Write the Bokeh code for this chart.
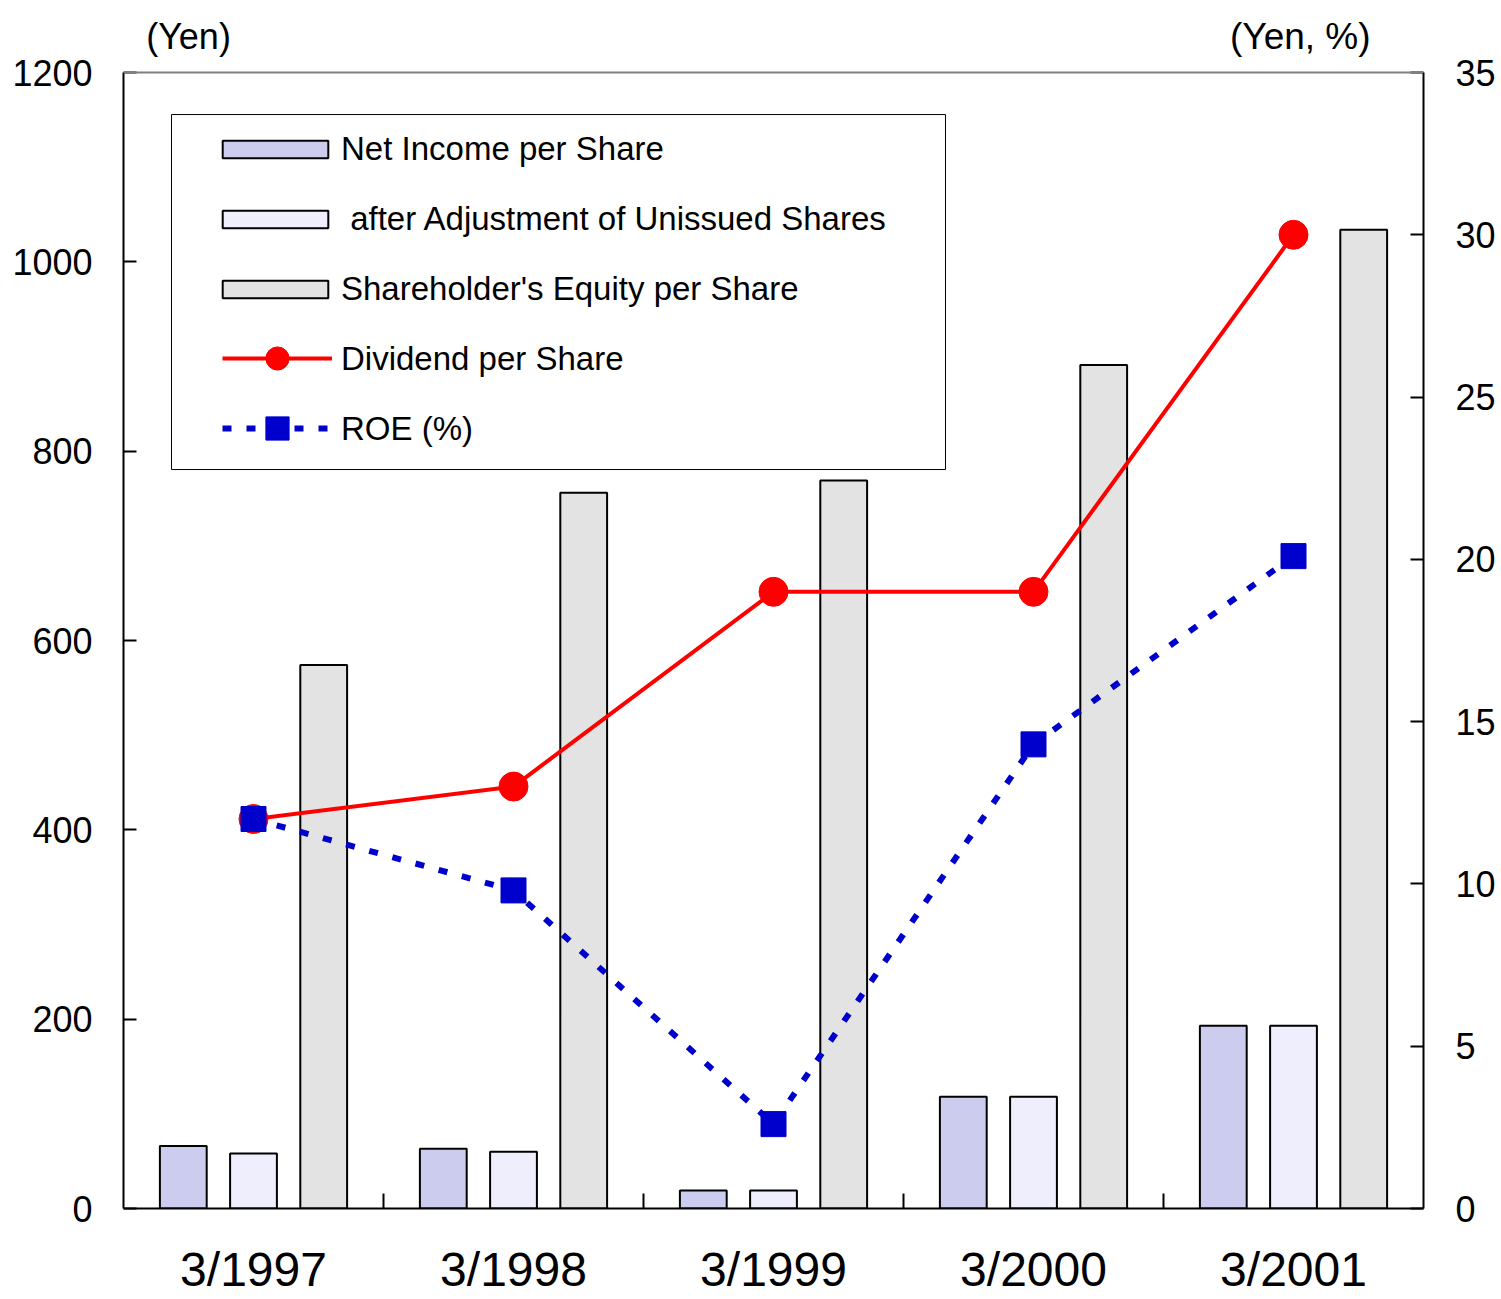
from bokeh.plotting import figure
from bokeh.models import (Range1d, LinearAxis, FixedTicker, Legend, LegendItem,
                          Label, BoxAnnotation, ColumnDataSource, Span)
from bokeh.embed import file_html
from bokeh.resources import INLINE

# ---------------- data ----------------
years = ["3/1997", "3/1998", "3/1999", "3/2000", "3/2001"]
net_income = [66, 63, 19, 118, 193]
net_income_adj = [58, 60, 19, 118, 193]
equity = [574, 756, 769, 891, 1034]
dividend = [12, 13, 19, 19, 30]
roe = [12.0, 9.8, 2.6, 14.3, 20.1]
left_ticks = [0, 200, 400, 600, 800, 1000, 1200]
right_ticks = [0, 5, 10, 15, 20, 25, 30, 35]

FONT = "Liberation Sans"
LEFT_MAX = 1200
RIGHT_MAX = 35
AXIS_PX = 1136          # pixel height of the 0..max axis span
FRAME_PX = 1204         # frame includes a header band for the unit titles
top_factor = FRAME_PX / AXIS_PX

centers = [i + 0.5 for i in range(len(years))]
bw = 0.18
off = 0.27

src = ColumnDataSource(dict(
    xc=centers,
    xn=[c - off for c in centers],
    xe=[c + off for c in centers],
    net=net_income, adj=net_income_adj, eq=equity, div=dividend, roe=roe,
))

p = figure(frame_width=1300, frame_height=FRAME_PX,
           min_border_left=123, min_border_right=75,
           min_border_top=4, min_border_bottom=90,
           x_range=Range1d(0, len(years)),
           y_range=Range1d(0, LEFT_MAX * top_factor),
           output_backend="svg", toolbar_location=None)
p.extra_y_ranges = {"right": Range1d(0, RIGHT_MAX * top_factor)}
p.xgrid.grid_line_color = None
p.ygrid.grid_line_color = None
p.outline_line_color = None
p.background_fill_color = "white"
p.border_fill_color = "white"

# top border of the plotting area
p.add_layout(Span(location=LEFT_MAX, dimension="width", line_color="#808080", line_width=2))

# left axis
ya = p.yaxis[0]
ya.bounds = (0, LEFT_MAX)
ya.ticker = FixedTicker(ticks=left_ticks, minor_ticks=[])
ya.major_tick_in = 13
ya.major_tick_out = 0
ya.minor_tick_in = 0
ya.minor_tick_out = 0
ya.major_tick_line_width = 2
ya.axis_line_width = 2
ya.axis_line_color = "black"
ya.major_tick_line_color = "black"
ya.major_label_standoff = 31
ya.major_label_text_font = FONT
ya.major_label_text_font_size = "36px"
ya.major_label_text_color = "black"

# right axis
ra = LinearAxis(y_range_name="right", ticker=FixedTicker(ticks=right_ticks, minor_ticks=[]))
ra.bounds = (0, RIGHT_MAX)
ra.major_tick_in = 13
ra.major_tick_out = 0
ra.minor_tick_in = 0
ra.minor_tick_out = 0
ra.major_tick_line_width = 2
ra.axis_line_width = 2
ra.axis_line_color = "black"
ra.major_label_standoff = 32
ra.major_label_text_font = FONT
ra.major_label_text_font_size = "36px"
ra.major_label_text_color = "black"
p.add_layout(ra, "right")

# bottom axis
xa = p.xaxis[0]
xa.ticker = FixedTicker(ticks=centers, minor_ticks=[1, 2, 3, 4])
xa.major_label_overrides = {c: y for c, y in zip(centers, years)}
xa.major_tick_in = 0
xa.major_tick_out = 0
xa.minor_tick_in = 15
xa.minor_tick_out = 0
xa.minor_tick_line_width = 2
xa.minor_tick_line_color = "black"
xa.axis_line_width = 2
xa.axis_line_color = "black"
xa.major_label_standoff = 34
xa.major_label_text_font = FONT
xa.major_label_text_font_size = "48px"
xa.major_label_text_color = "black"

# bars
r_net = p.vbar(x="xn", top="net", width=bw, source=src, fill_color="#CCCCEE",
               line_color="black", line_width=2)
r_adj = p.vbar(x="xc", top="adj", width=bw, source=src, fill_color="#EEEEFC",
               line_color="black", line_width=2)
r_eq = p.vbar(x="xe", top="eq", width=bw, source=src, fill_color="#E3E3E3",
              line_color="black", line_width=2)

# lines on right axis
r_div_line = p.line(x="xc", y="div", source=src, y_range_name="right",
                    line_color="#FF0000", line_width=4)
r_div_pts = p.scatter(x="xc", y="div", source=src, y_range_name="right",
                      marker="circle", size=29, fill_color="#FF0000", line_color="#FF0000")
r_roe_line = p.line(x="xc", y="roe", source=src, y_range_name="right",
                    line_color="#0000CC", line_width=6, line_dash="9 15")
r_roe_pts = p.scatter(x="xc", y="roe", source=src, y_range_name="right",
                      marker="square", size=25, fill_color="#0000CC", line_color="#0000CC")

# invisible placeholder so line entries share the text column of the bar entries
r_blank = p.line(x=[], y=[], line_alpha=0)

# legend frame
box = BoxAnnotation(left=0.1846, right=3.1615, top=1155.6, bottom=780.6,
                    fill_color="white", fill_alpha=1.0, line_color="black",
                    line_alpha=1.0, line_width=1)
p.add_layout(box)

leg1 = Legend(items=[
    LegendItem(label="Net Income per Share", renderers=[r_net]),
    LegendItem(label=" after Adjustment of Unissued Shares", renderers=[r_adj]),
    LegendItem(label="Shareholder's Equity per Share", renderers=[r_eq]),
    LegendItem(label="Dividend per Share", renderers=[r_blank]),
    LegendItem(label="ROE (%)", renderers=[r_blank]),
], location=(86, 760), orientation="vertical", glyph_width=132, glyph_height=22,
    label_height=38, spacing=32, padding=0, margin=0, label_standoff=0,
    label_text_font=FONT, label_text_font_size="33px", label_text_color="black",
    border_line_alpha=0, background_fill_alpha=0)
p.add_layout(leg1)

leg2 = Legend(items=[
    LegendItem(label=" ", renderers=[r_div_line, r_div_pts]),
    LegendItem(label=" ", renderers=[r_roe_line, r_roe_pts]),
], location=(99, 751), orientation="vertical", glyph_width=110, glyph_height=58,
    spacing=12, padding=0, margin=0, label_standoff=0, label_text_alpha=0,
    label_text_font_size="10px", border_line_alpha=0, background_fill_alpha=0)
p.add_layout(leg2)

# axis unit titles
p.add_layout(Label(x=0.25, y=1238, text="(Yen)", text_align="center",
                   text_baseline="middle", text_font=FONT, text_font_size="36px",
                   text_color="black"))
p.add_layout(Label(x=4.546, y=1238, text="(Yen,  %)", text_align="center",
                   text_baseline="middle", text_font=FONT, text_font_size="37px",
                   text_color="black"))

open("out.html", "w").write(file_html(p, INLINE))
